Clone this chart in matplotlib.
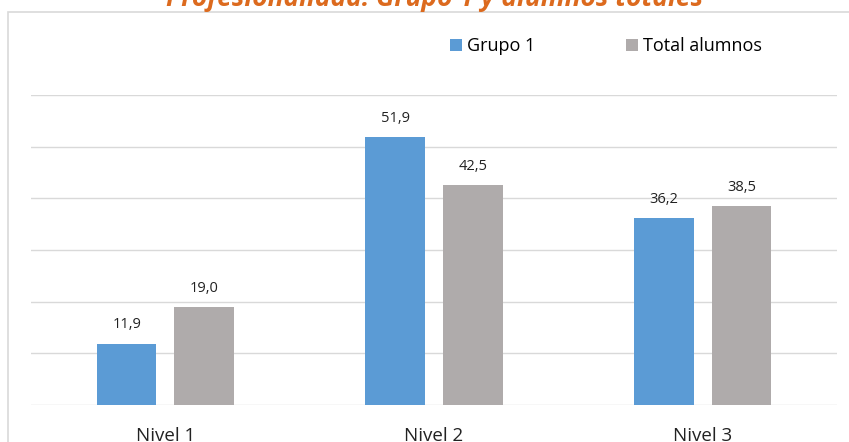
import matplotlib
matplotlib.use('Agg')
import matplotlib.pyplot as plt
from matplotlib.patches import Rectangle
import numpy as np

# Chart data
categories = ['Nivel 1', 'Nivel 2', 'Nivel 3']
grupo1 = [11.9, 51.9, 36.2]
total_alumnos = [19.0, 42.5, 38.5]
series_names = ['Grupo 1', 'Total alumnos']
title = 'Profesionalidad: Grupo 1 y alumnos totales'

plt.rcParams['font.family'] = ['Open Sans', 'DejaVu Sans']

blue = '#5B9BD5'
gray = '#AFABAB'
grid_color = '#D9D9D9'

fig = plt.figure(figsize=(8.49, 4.42), dpi=100)
ax = fig.add_axes([31 / 849, 1 - 405 / 442, 806 / 849, 310 / 442])

x = np.arange(len(categories))
width = 0.222
offset = 0.144
b1 = ax.bar(x - offset, grupo1, width, color=blue, label=series_names[0], zorder=2)
b2 = ax.bar(x + offset, total_alumnos, width, color=gray, label=series_names[1], zorder=2)

for bars, vals in ((b1, grupo1), (b2, total_alumnos)):
    for rect, v in zip(bars, vals):
        ax.annotate(f'{v:.1f}'.replace('.', ','),
                    (rect.get_x() + rect.get_width() / 2, rect.get_height()),
                    xytext=(0, 8), textcoords='offset points',
                    ha='center', va='bottom', fontsize=10.5, color='#222222')

ax.set_xlim(-0.5, 2.5)
ax.set_ylim(0, 60)
ax.set_yticks(np.arange(0, 61, 10))
ax.yaxis.grid(True, color=grid_color, linewidth=1, zorder=0)
ax.set_yticklabels([])
ax.tick_params(axis='y', length=0)
ax.set_xticks(x)
ax.set_xticklabels(categories, fontsize=13.5, color='#222222')
ax.tick_params(axis='x', length=0, pad=16)
for s in ax.spines.values():
    s.set_visible(False)

ax.legend(loc='upper left', bbox_to_anchor=(403 / 806, 1 + 74 / 310), ncol=2,
          frameon=False, fontsize=13, handlelength=0.65, handleheight=0.65,
          handletextpad=0.3, columnspacing=5.0)

# chart frame
fig.patches.append(Rectangle((8 / 849, -0.05), 1.0, 1.05 - 12 / 442,
                             transform=fig.transFigure, fill=False,
                             edgecolor=grid_color, linewidth=1.2))

fig.text(435 / 849, 1 - 6 / 442, title, ha='center', va='baseline',
         fontsize=19, fontstyle='italic', fontweight='bold', color='#DC6A1E')

fig.savefig('out.png', dpi=100)
